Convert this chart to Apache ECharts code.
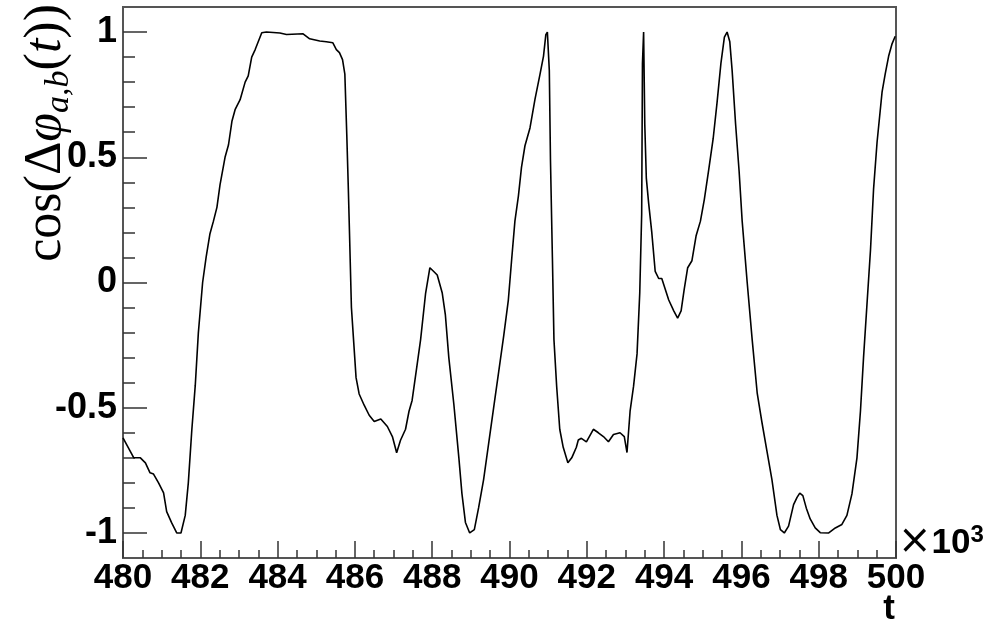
<!DOCTYPE html>
<html>
<head>
<meta charset="utf-8">
<script src="https://cdn.jsdelivr.net/npm/echarts@6/dist/echarts.min.js"></script>
<style>
  html, body { margin: 0; padding: 0; background: #fff; }
  #chart { width: 988px; height: 629px; }
</style>
</head>
<body>
<div id="chart"></div>
<script>
// t in units of 10^3
var tValues = [
  480.00, 480.28, 480.45, 480.58, 480.70, 480.79, 480.92, 481.05, 481.13, 481.26,
  481.39, 481.50, 481.61, 481.69, 481.78, 481.87, 481.95, 482.06, 482.15, 482.25,
  482.34, 482.43, 482.51, 482.64, 482.73, 482.82, 482.90, 483.03, 483.16, 483.24,
  483.33, 483.42, 483.59, 483.71, 484.06, 484.23, 484.66, 484.83, 485.09, 485.26,
  485.43, 485.52, 485.60, 485.68, 485.74, 485.79, 485.83, 485.86, 485.91, 485.97,
  486.03, 486.11, 486.24, 486.37, 486.50, 486.67, 486.84, 486.97, 487.08, 487.18,
  487.31, 487.40, 487.48, 487.61, 487.70, 487.83, 487.94, 488.04, 488.13, 488.26,
  488.34, 488.43, 488.56, 488.69, 488.77, 488.86, 488.97, 489.09, 489.20, 489.33,
  489.46, 489.59, 489.72, 489.85, 489.97, 490.06, 490.14, 490.23, 490.31, 490.40,
  490.53, 490.66, 490.79, 490.88, 490.94, 490.98, 491.03, 491.06, 491.11, 491.15,
  491.22, 491.30, 491.39, 491.51, 491.61, 491.65, 491.73, 491.78, 491.86, 491.91,
  491.99, 492.04, 492.17, 492.30, 492.43, 492.56, 492.69, 492.86, 492.97, 493.04,
  493.12, 493.21, 493.30, 493.37, 493.42, 493.44, 493.47, 493.50, 493.54, 493.60,
  493.68, 493.77, 493.86, 493.94, 494.03, 494.12, 494.25, 494.35, 494.44, 494.52,
  494.61, 494.72, 494.83, 494.94, 495.04, 495.15, 495.27, 495.37, 495.47, 495.56,
  495.63, 495.70, 495.76, 495.85, 495.94, 496.02, 496.15, 496.28, 496.41, 496.53,
  496.66, 496.79, 496.92, 497.01, 497.11, 497.22, 497.35, 497.44, 497.51, 497.59,
  497.68, 497.78, 497.91, 498.04, 498.26, 498.43, 498.60, 498.73, 498.86, 498.99,
  499.08, 499.16, 499.25, 499.34, 499.42, 499.51, 499.64, 499.72, 499.81, 499.90,
  499.98
];
var cosValues = [
  -0.62, -0.70, -0.70, -0.72, -0.76, -0.765, -0.80, -0.84, -0.915, -0.96,
  -1.0, -1.0, -0.93, -0.80, -0.59, -0.41, -0.20, 0.0, 0.10, 0.195,
  0.245, 0.30, 0.39, 0.50, 0.55, 0.645, 0.69, 0.73, 0.80, 0.825,
  0.90, 0.93, 0.997, 1.0, 0.996, 0.99, 0.993, 0.973, 0.964, 0.961,
  0.957, 0.93, 0.918, 0.89, 0.832, 0.59, 0.374, 0.20, -0.10, -0.24,
  -0.38, -0.445, -0.49, -0.53, -0.555, -0.545, -0.575, -0.615, -0.68, -0.63,
  -0.586, -0.514, -0.471, -0.328, -0.228, -0.042, 0.059, 0.044, 0.030, -0.042,
  -0.128, -0.30, -0.486, -0.70, -0.844, -0.958, -1.0, -0.987, -0.90, -0.787,
  -0.643, -0.50, -0.357, -0.213, -0.07, 0.10, 0.245, 0.345, 0.46, 0.546,
  0.617, 0.732, 0.832, 0.904, 0.99, 1.0, 0.847, 0.489, 0.10, -0.228,
  -0.414, -0.586, -0.658, -0.72, -0.70, -0.686, -0.658, -0.629, -0.622, -0.622,
  -0.636, -0.636, -0.586, -0.60, -0.615, -0.636, -0.607, -0.60, -0.615, -0.679,
  -0.514, -0.414, -0.285, -0.042, 0.274, 0.875, 1.0, 0.632, 0.417, 0.317,
  0.202, 0.044, 0.016, 0.016, -0.027, -0.07, -0.113, -0.142, -0.113, -0.027,
  0.059, 0.087, 0.188, 0.245, 0.331, 0.446, 0.575, 0.718, 0.875, 0.98,
  1.0, 0.961, 0.847, 0.632, 0.446, 0.245, 0.0, -0.23, -0.443, -0.557,
  -0.672, -0.787, -0.93, -0.987, -1.0, -0.973, -0.887, -0.858, -0.841, -0.851,
  -0.901, -0.944, -0.98, -0.999, -1.0, -0.98, -0.966, -0.93, -0.844, -0.70,
  -0.514, -0.30, -0.085, 0.13, 0.374, 0.56, 0.761, 0.832, 0.904, 0.954,
  0.983
];
var yMajorTicks = [-1, -0.5, 0, 0.5, 1];
var yMinorTicks = [-1, -0.9, -0.8, -0.7, -0.6, -0.5, -0.4, -0.3, -0.2, -0.1, 0,
                   0.1, 0.2, 0.3, 0.4, 0.5, 0.6, 0.7, 0.8, 0.9, 1];

var points = tValues.map(function (t, i) { return [t, cosValues[i]]; });

var frameColor = '#555';
var sans = 'Liberation Sans, Arial, sans-serif';
var serif = 'Liberation Serif, Times New Roman, serif';

var chart = echarts.init(document.getElementById('chart'));
chart.setOption({
  backgroundColor: '#fff',
  animation: false,
  grid: {
    left: 123, right: 92, top: 7, bottom: 71,
    show: true, borderColor: frameColor, borderWidth: 2
  },
  xAxis: {
    type: 'value',
    min: 480, max: 500, interval: 2,
    axisLine: { onZero: false, lineStyle: { color: frameColor, width: 2 } },
    axisTick: { inside: true, length: 17, lineStyle: { color: '#333', width: 1.5 } },
    minorTick: { show: true, splitNumber: 4, length: 8, lineStyle: { color: '#333', width: 1.5 } },
    splitLine: { show: false },
    axisLabel: {
      margin: 3, color: '#000', fontFamily: sans, fontWeight: 'bold', fontSize: 35,
      showMinLabel: true, showMaxLabel: true
    }
  },
  yAxis: [{
    type: 'value',
    min: -1.1, max: 1.1,
    axisLine: { show: true, onZero: false, lineStyle: { color: frameColor, width: 2 } },
    axisTick: { show: true, inside: true, length: 24, customValues: yMajorTicks,
      lineStyle: { color: '#333', width: 1.5 } },
    splitLine: { show: false },
    axisLabel: {
      customValues: yMajorTicks,
      margin: 6, color: '#000', fontFamily: sans, fontWeight: 'bold', fontSize: 36,
      formatter: function (v) { return String(v); }
    }
  }, {
    type: 'value',
    position: 'left',
    min: -1.1, max: 1.1,
    axisLine: { show: false, onZero: false },
    axisTick: { show: true, inside: true, length: 12, customValues: yMinorTicks,
      lineStyle: { color: '#333', width: 1.5 } },
    splitLine: { show: false },
    axisLabel: { show: false }
  }],
  graphic: [{
    type: 'text',
    x: 46, y: 4,
    rotation: Math.PI / 2,
    style: {
      text: '{n|cos(Δ}{i|φ}{s|a,b}{n|(}{i|t}{n|))}',
      align: 'right',
      verticalAlign: 'middle',
      fill: '#000',
      rich: {
        n: { fontFamily: serif, fontSize: 52, lineHeight: 60, fill: '#000' },
        i: { fontFamily: serif, fontSize: 52, lineHeight: 60, fontStyle: 'italic', fill: '#000' },
        s: { fontFamily: serif, fontSize: 34, lineHeight: 26, fontStyle: 'italic',
             verticalAlign: 'bottom', fill: '#000' }
      }
    }
  }, {
    type: 'text',
    x: 898, y: 543,
    style: {
      text: '{x|×}{b|10}{p|3}',
      align: 'left',
      verticalAlign: 'middle',
      rich: {
        x: { fontFamily: 'DejaVu Sans, sans-serif', fontSize: 40, lineHeight: 40, fill: '#000' },
        b: { fontFamily: sans, fontSize: 35, lineHeight: 40, fontWeight: 'bold', fill: '#000' },
        p: { fontFamily: sans, fontSize: 24, lineHeight: 26, fontWeight: 'bold',
             verticalAlign: 'top', fill: '#000' }
      }
    }
  }, {
    type: 'text',
    x: 889, y: 609,
    style: {
      text: 't',
      align: 'center',
      verticalAlign: 'middle',
      fontFamily: sans, fontSize: 35, fontWeight: 'bold', fill: '#000'
    }
  }],
  series: [{
    type: 'line',
    data: points,
    showSymbol: false,
    lineStyle: { color: '#000', width: 1.6 },
    clip: true
  }]
});
</script>
</body>
</html>
